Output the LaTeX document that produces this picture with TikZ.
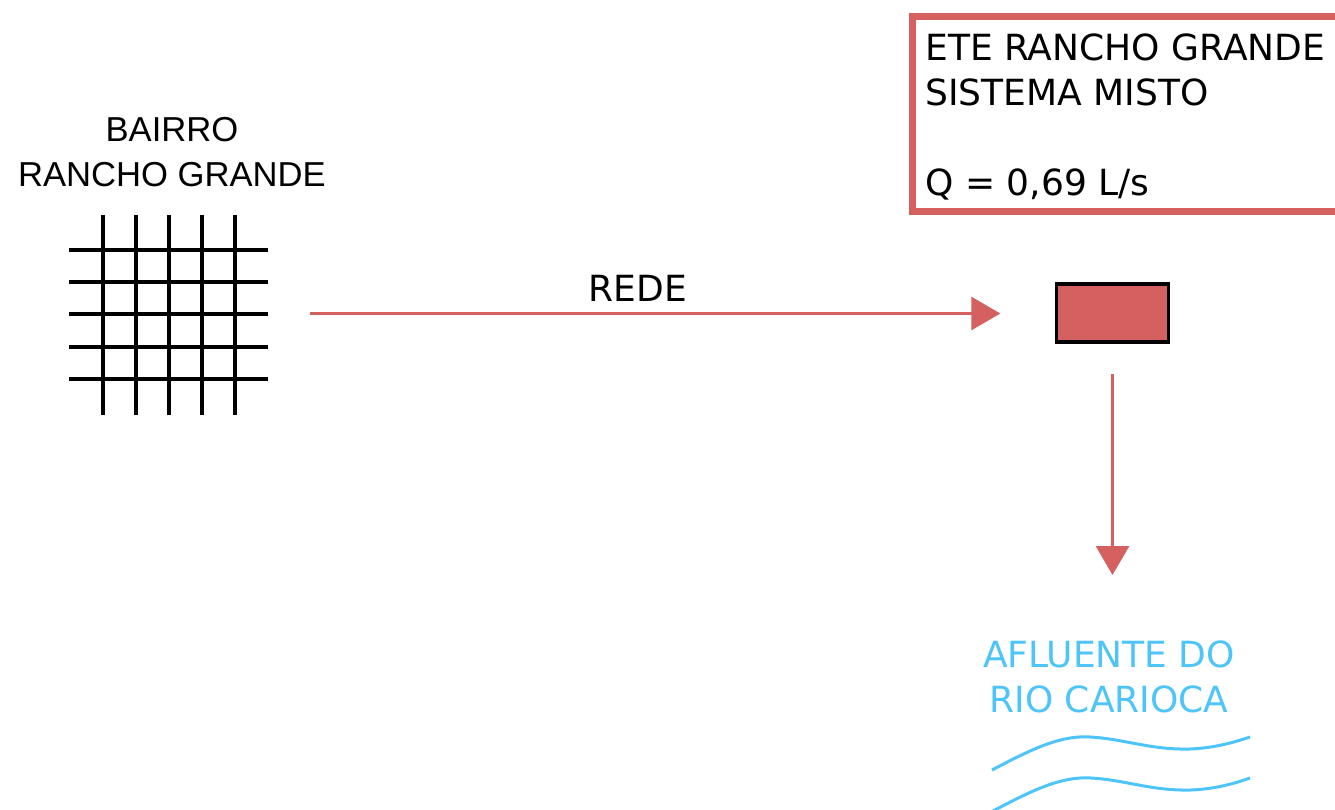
\documentclass[tikz,border=0pt]{standalone}
\usepackage{fontspec}
\setmainfont{DejaVu Sans}
\newfontfamily\arialfont{Liberation Sans}
\usetikzlibrary{arrows.meta}
\definecolor{etered}{RGB}{212,96,96}
\definecolor{rioblue}{RGB}{77,196,250}
\begin{document}
\begin{tikzpicture}[x=0.02cm, y=-0.02cm,
                    txt/.style={inner sep=0pt, text=black,
                                font=\fontsize{20.5}{25.6}\selectfont},
                    flow/.style={draw=etered, line width=0.06cm,
                                 -{Triangle[length=0.58cm, width=0.66cm]}},
                    gridline/.style={line width=0.07cm},
                    wave/.style={draw=rioblue, line width=0.06cm}]
	\useasboundingbox (0,0) rectangle (1335,810);
	\clip (0,0) rectangle (1335,810);

	\node[txt, align=center, font=\arialfont\fontsize{19.7}{25.5}\selectfont] (bairro) at (172,152) {BAIRRO\\RANCHO GRANDE};
	\node[inner sep=0pt, minimum width=3.98cm, minimum height=4cm] (grid) at (168.5,313.5) {};
	\foreach \x in {103,136,169,202,235}
		\draw[gridline] (\x,215) -- (\x,415);
	\foreach \y in {250,282,314,347,379}
		\draw[gridline] (69,\y) -- (268,\y);

	\node[draw=black, fill=etered, line width=0.07cm, minimum width=2.24cm, minimum height=1.16cm, inner sep=0pt] (ete) at (1112.5,313) {};
	\node[draw=etered, line width=0.14cm, outer sep=0pt, minimum width=8.66cm, minimum height=3.9cm, anchor=north west] (info) at (912,16.5) {};
	\node[txt, align=left, anchor=north west] (infotext) at (925,33) {ETE RANCHO GRANDE\\SISTEMA MISTO\\[25.6pt]Q = 0,69 L/s};
	\node[txt, anchor=base] (rede) at (638,302) {REDE};
	\node[txt, text=rioblue, align=center] (rio) at (1109,677) {AFLUENTE DO\\RIO CARIOCA};
	\coordinate (out) at (1112.5,575);

	\draw[flow, shorten <=0.84cm, shorten >=1.09cm] (grid.east) -- (grid.east -| ete.west);
	\draw[flow, shorten <=0.61cm] (ete.south) -- (out);

	\draw[wave] (992,770) .. controls (1030,750) and (1060,735) .. (1090,737) .. controls (1125,739) and (1150,750) .. (1190,749) .. controls (1215,748) and (1235,742) .. (1250,737);
	\draw[wave] (993,811) .. controls (1031,791) and (1061,776) .. (1091,778) .. controls (1126,780) and (1151,791) .. (1191,790) .. controls (1216,789) and (1236,783) .. (1250,778);
\end{tikzpicture}
\end{document}
